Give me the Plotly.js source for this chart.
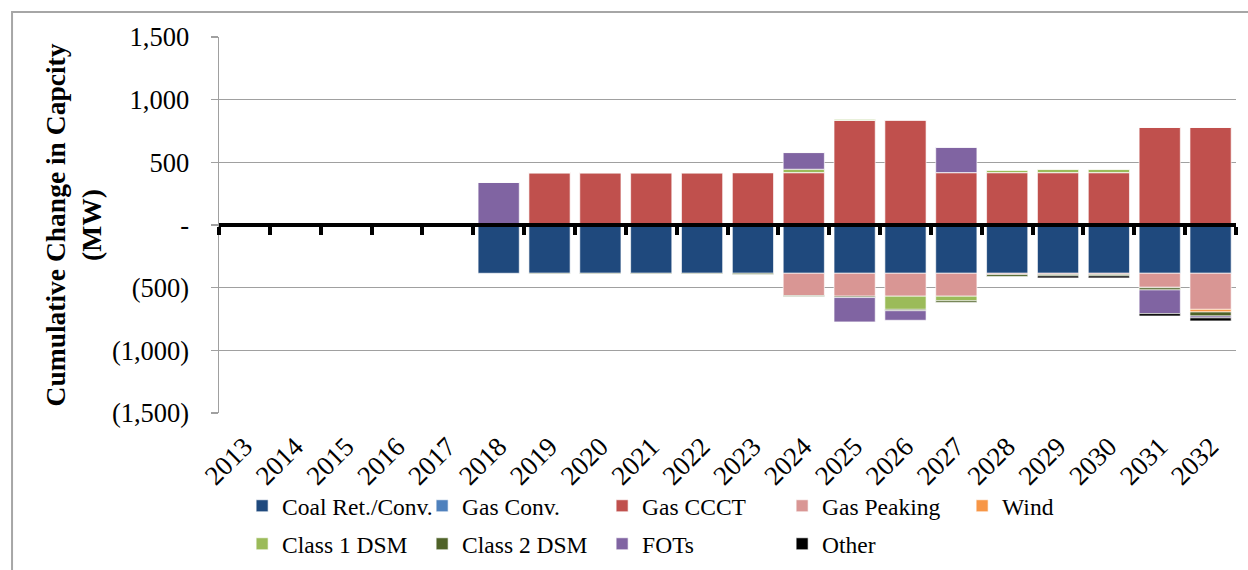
<!DOCTYPE html>
<html>
<head>
<meta charset="utf-8">
<script src="https://cdn.plot.ly/plotly-3.0.1.min.js"></script>
<style>html,body{margin:0;padding:0;background:#fff;}#chart{width:1248px;height:570px;}</style>
</head>
<body>
<div id="chart"></div>
<script>
// Categories
const years = ['2013','2014','2015','2016','2017','2018','2019','2020','2021','2022','2023','2024','2025','2026','2027','2028','2029','2030','2031','2032'];

// Series values (MW), one per year 2013..2032
const coalRetConv = [0,0,0,0,0,-385,-385,-385,-385,-385,-385,-385,-385,-385,-385,-385,-385,-385,-385,-385];
const gasConv     = [0,0,0,0,0,0,0,0,0,0,0,0,0,0,0,0,0,0,0,0];
const gasCCCT     = [0,0,0,0,0,0,418,418,418,418,418,418,835,838,418,418,418,418,778,778];
const gasPeaking  = [0,0,0,0,0,0,0,0,0,0,0,-178,-183,-183,-183,-9,-9,-9,-112,-288];
const wind        = [0,0,0,0,0,0,0,0,0,0,3,0,0,0,0,0,0,0,-4,-21];
const class1DSM   = [0,0,0,0,0,0,0,0,0,0,0,27,10,-105,-37,21,27,27,0,0];
const class2DSM   = [0,0,0,0,0,0,-5,-5,-5,-5,-10,-7,-11,-11,-13,-16,-12,-12,-17,-32];
const fots        = [0,0,0,0,0,339,0,0,0,0,0,133,-194,-76,202,0,0,0,-189,-15];
const other       = [0,0,0,0,0,0,0,0,0,0,0,0,0,0,0,0,-16,-16,-19,-24];

// Legend / series names and y tick labels
const seriesNames = ['Coal Ret./Conv.','Gas Conv.','Gas CCCT','Gas Peaking','Wind','Class 1 DSM','Class 2 DSM','FOTs','Other'];
const seriesColors = ['#1F497D','#4F81BD','#C0504D','#D99694','#F79646','#9BBB59','#4F6228','#8064A2','#000000'];
const seriesValues = [coalRetConv,gasConv,gasCCCT,gasPeaking,wind,class1DSM,class2DSM,fots,other];
const yTickVals = [-1500,-1000,-500,0,500,1000,1500];
const yTickText = ['(1,500)','(1,000)','(500)','-','500','1,000','1,500'];

const FONT = '"Liberation Serif","Times New Roman",Times,serif';

const traces = seriesNames.map((name,i)=>({
  type:'bar',
  name:name,
  x:years,
  y:seriesValues[i],
  legend: i < 5 ? 'legend' : 'legend2',
  marker:{color:seriesColors[i], line:{color:'rgba(255,255,255,0.65)', width:1}},
  hoverinfo:'x+y+name'
}));

// invisible helper trace so the zero-line category axis has its categories
traces.push({
  type:'scatter', mode:'markers', x:years, y:years.map(()=>0),
  xaxis:'x2', yaxis:'y', marker:{opacity:0, size:1},
  showlegend:false, hoverinfo:'skip'
});

const legendBase = {
  orientation:'h', xref:'container', yref:'container',
  x:0.194, xanchor:'left', yanchor:'top',
  font:{family:FONT, size:23.5, color:'#000'},
  entrywidth:135, entrywidthmode:'pixels',
  traceorder:'normal', bgcolor:'rgba(0,0,0,0)', itemclick:false
};

const layout = {
  width:1248, height:570,
  margin:{l:219, r:12, t:37, b:157},
  paper_bgcolor:'#ffffff', plot_bgcolor:'#ffffff',
  barmode:'relative', bargap:0.19,
  font:{family:FONT, color:'#000', size:26},
  showlegend:true,
  legend:Object.assign({}, legendBase, {y:1-484/570}),
  legend2:Object.assign({}, legendBase, {y:1-522/570}),
  xaxis:{
    type:'category', categoryorder:'array', categoryarray:years,
    range:[-0.5,19.5], tickangle:-45,
    showline:false, showgrid:false, zeroline:false,
    ticks:'outside', ticklen:6, tickcolor:'rgba(0,0,0,0)',
    tickfont:{family:FONT, size:27, color:'#000'}
  },
  xaxis2:{
    type:'category', categoryorder:'array', categoryarray:years,
    range:[-0.5,19.5], overlaying:'x', anchor:'free', position:0.5,
    showline:true, linecolor:'#000', linewidth:4,
    ticks:'outside', tickson:'boundaries', ticklen:8, tickwidth:4, tickcolor:'#000',
    showticklabels:false, showgrid:false, zeroline:false, layer:'above traces'
  },
  yaxis:{
    range:[-1500,1500], tickvals:yTickVals, ticktext:yTickText,
    showgrid:true, gridcolor:'#a0a0a0', gridwidth:1.5,
    zeroline:false,
    showline:true, linecolor:'#a0a0a0', linewidth:1.5,
    ticks:'outside', ticklen:7, tickcolor:'#a0a0a0', tickwidth:1.5,
    ticklabelstandoff:16,
    tickfont:{family:FONT, size:26.5, color:'#000'},
    title:{text:'<b>Cumulative Change in Capcity<br>(MW)</b>', font:{family:FONT, size:27.5, color:'#000'}, standoff:2}
  },
  shapes:[
    {type:'rect', xref:'paper', yref:'paper', x0:-0.2035, x1:1.2, y0:-0.7, y1:1.0665,
     line:{color:'#a6a6a6', width:2}, fillcolor:'rgba(0,0,0,0)', layer:'below'}
  ]
};

Plotly.newPlot('chart', traces, layout, {displayModeBar:false, staticPlot:true});
</script>
</body>
</html>
